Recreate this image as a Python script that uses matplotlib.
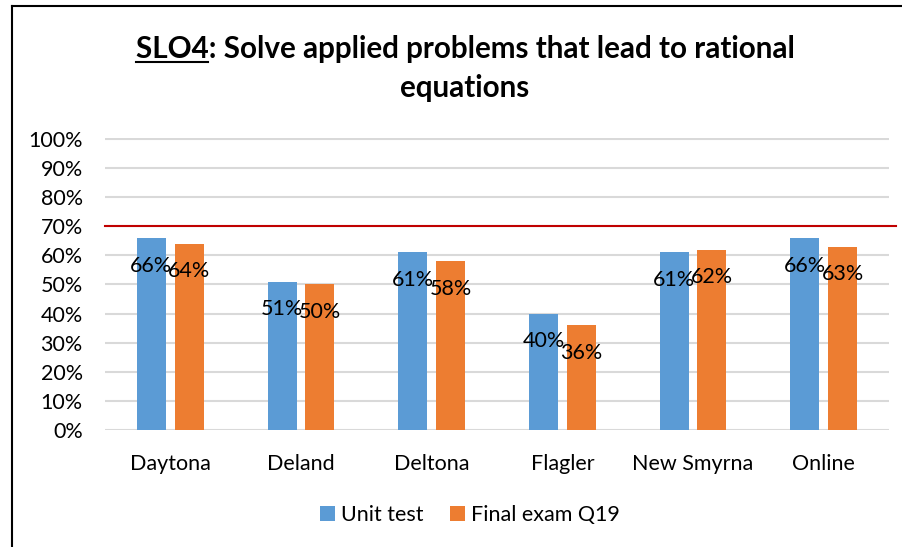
import numpy as np
import matplotlib.pyplot as plt
from matplotlib.lines import Line2D

sites = ["Daytona", "Deland", "Deltona", "Flagler", "New Smyrna", "Online"]
unit_test = [66, 51, 61, 40, 61, 66]
final_q19 = [64, 50, 58, 36, 62, 63]
target = 70
yticks = list(range(0, 101, 10))

BLUE = "#5b9bd5"
ORANGE = "#ed7d31"
RED = "#c00000"
GRID = "#d9d9d9"

plt.rcParams["font.family"] = ["Lato", "DejaVu Sans"]

W, H = 902, 547
fig = plt.figure(figsize=(W / 100, H / 100), dpi=100)
ax = fig.add_axes([105 / W, 1 - 430 / H, 784 / W, 292 / H])

x = np.arange(len(sites))
bw, off = 0.222, 0.145
b1 = ax.bar(x - off, np.array(unit_test) / 100, bw, color=BLUE, label="Unit test", zorder=2)
b2 = ax.bar(x + off, np.array(final_q19) / 100, bw, color=ORANGE, label="Final exam Q19", zorder=2)
for bars, vals in ((b1, unit_test), (b2, final_q19)):
    for r, v in zip(bars, vals):
        ax.annotate(f"{v}%", (r.get_x() + r.get_width() / 2, r.get_height()),
                    xytext=(0, -20), textcoords="offset points",
                    ha="center", va="center", fontsize=15.5, zorder=4)

ax.axhline(target / 100, xmin=0, xmax=1.009, color=RED, lw=1.5, clip_on=False, zorder=3)
ax.set_xlim(-0.5, len(sites) - 0.5)
ax.set_ylim(0, 1.003)
ax.set_yticks(np.array(yticks) / 100)
ax.set_yticklabels([f"{t}%" for t in yticks])
ax.set_xticks(x)
ax.set_xticklabels(sites)
ax.tick_params(length=0, labelsize=15.5)
ax.tick_params(axis="x", pad=17)
ax.tick_params(axis="y", pad=16)
ax.grid(axis="y", color=GRID, lw=1.5, zorder=0)
for s in ax.spines.values():
    s.set_visible(False)

fig.legend(handles=[b1, b2], loc="center", bbox_to_anchor=(470 / W, 1 - 515 / H),
           ncol=2, frameon=False, fontsize=15.5, handlelength=0.7, handleheight=0.7,
           handletextpad=0.3, columnspacing=1.2)

# title, with "SLO4" underlined
tsize = 21.3
t1 = fig.text(465 / W, 1 - 58 / H, "SLO4: Solve applied problems that lead to rational",
              ha="center", va="baseline", fontsize=tsize, weight="bold")
fig.text(465 / W, 1 - 97 / H, "equations", ha="center", va="baseline",
         fontsize=tsize, weight="bold")
fig.canvas.draw()
rend = fig.canvas.get_renderer()
bb = t1.get_window_extent(rend)
probe = fig.text(0, 0, "SLO4", fontsize=tsize, weight="bold")
wpx = probe.get_window_extent(rend).width
probe.remove()
fig.add_artist(Line2D([bb.x0 / W, (bb.x0 + wpx) / W], [1 - 62 / H] * 2,
                      color="black", lw=1.5, transform=fig.transFigure))

# chart frame (left and top edges visible in the crop)
fig.add_artist(Line2D([12 / W, 12 / W], [0, 1 - 6 / H], color="black", lw=1.5,
                      transform=fig.transFigure))
fig.add_artist(Line2D([12 / W, 1], [1 - 6 / H] * 2, color="black", lw=1.5,
                      transform=fig.transFigure))

fig.savefig("out.png", dpi=100)
